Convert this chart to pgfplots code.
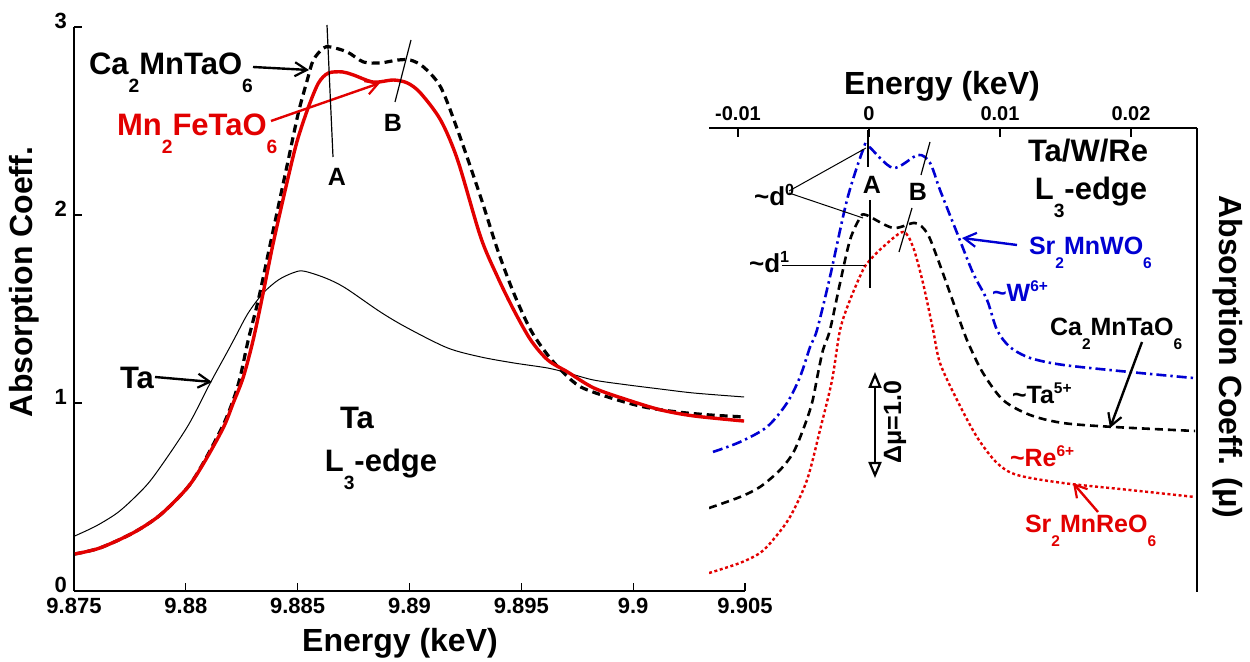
\documentclass[border=0pt]{standalone}
\usepackage{fontspec}
\setmainfont{Liberation Sans}
\usepackage{graphicx}
\usepackage{pgfplots}
\pgfplotsset{compat=1.18}
\usetikzlibrary{arrows.meta}

\definecolor{cred}{RGB}{226,0,0}
\definecolor{cblue}{RGB}{0,0,210}

% chemical sub- and superscripts, set low/high as in the figure style
\newcommand\sub[1]{\raisebox{-0.55em}{\scalebox{0.62}{#1}}}
\newcommand\sups[1]{\raisebox{0.4em}{\scalebox{0.62}{#1}}}
\newcommand\fs[1]{\fontsize{#1}{#1}\selectfont}

\begin{document}
{\bfseries
\begin{tikzpicture}
% ---------------- left panel: Ta L3-edge ----------------
\begin{axis}[
  at={(37pt,-295.5pt)}, anchor=south west,
  scale only axis, width=335.5pt, height=282pt,
  xmin=9.875, xmax=9.905, ymin=0, ymax=3,
  axis x line*=bottom, axis y line*=left,
  axis line style={line width=0.6pt},
  tick align=inside, major tick length=4pt,
  tick style={black, line width=0.6pt},
  xtick={9.875,9.88,9.885,9.89,9.895,9.9,9.905},
  xticklabels={9.875,9.88,9.885,9.89,9.895,9.9,9.905},
  ytick={0,1,2,3}, yticklabels={0,1,2,3},
  tick label style={font=\bfseries\fs{11}},
  yticklabel style={yshift=3pt},
  /pgf/number format/assume math mode=true,
]
% Ta metal reference
\addplot[black, line width=0.5pt, smooth] coordinates {
(9.87504,0.293) (9.87599,0.346) (9.87693,0.415) (9.87773,0.500) (9.87854,0.606)
(9.88006,0.872) (9.88109,1.106) (9.88185,1.271) (9.88221,1.351) (9.88279,1.479)
(9.88346,1.585) (9.88413,1.654) (9.88476,1.691) (9.88525,1.702) (9.88624,1.665)
(9.88713,1.612) (9.88870,1.484) (9.88991,1.399) (9.89170,1.293) (9.89318,1.245)
(9.89466,1.213) (9.89618,1.186) (9.89707,1.160) (9.89824,1.122) (9.89976,1.096)
(9.90124,1.074) (9.90272,1.053) (9.90496,1.032)};
% Ca2MnTaO6
\addplot[black, line width=1.6pt, dash pattern=on 4pt off 2.5pt, smooth] coordinates {
(9.87504,0.197) (9.87616,0.229) (9.87764,0.309) (9.87885,0.404) (9.88006,0.548)
(9.88078,0.681) (9.88167,0.883) (9.88212,1.016) (9.88243,1.138) (9.88279,1.335)
(9.88324,1.548) (9.88369,1.798) (9.88413,2.043) (9.88458,2.293) (9.88503,2.543)
(9.88543,2.718) (9.88570,2.824) (9.88615,2.888) (9.88646,2.894) (9.88722,2.867)
(9.88794,2.814) (9.88870,2.809) (9.88946,2.824) (9.89004,2.824) (9.89063,2.787)
(9.89139,2.681) (9.89215,2.452) (9.89318,2.096) (9.89394,1.814) (9.89466,1.585)
(9.89542,1.388) (9.89618,1.255) (9.89690,1.160) (9.89766,1.085) (9.89900,1.027)
(9.90048,0.979) (9.90200,0.952) (9.90348,0.936) (9.90496,0.926)};
% Mn2FeTaO6
\addplot[cred, line width=1.7pt, smooth] coordinates {
(9.87504,0.197) (9.87616,0.229) (9.87764,0.309) (9.87885,0.404) (9.88006,0.548)
(9.88078,0.676) (9.88167,0.867) (9.88212,1.000) (9.88257,1.138) (9.88301,1.335)
(9.88342,1.564) (9.88387,1.830) (9.88431,2.064) (9.88476,2.293) (9.88503,2.415)
(9.88548,2.574) (9.88593,2.702) (9.88637,2.755) (9.88700,2.761) (9.88749,2.745)
(9.88839,2.707) (9.88928,2.718) (9.88991,2.702) (9.89049,2.649) (9.89139,2.505)
(9.89215,2.293) (9.89318,1.883) (9.89394,1.670) (9.89466,1.495) (9.89542,1.335)
(9.89618,1.229) (9.89707,1.165) (9.89824,1.080) (9.89976,1.016) (9.90124,0.963)
(9.90272,0.931) (9.90496,0.904)};
\end{axis}

% ---------------- right panel: Ta/W/Re L3-edge, relative energy ----------------
\begin{axis}[
  at={(354.5pt,-296pt)}, anchor=south west,
  scale only axis, width=244pt, height=232pt,
  xmin=-0.012214, xmax=0.025038, ymin=0, ymax=4.377,
  axis x line*=top, axis y line*=right,
  axis line style={line width=0.8pt},
  tick align=inside, major tick length=4.5pt,
  tick style={black, line width=0.7pt},
  scaled x ticks=false,
  xtick={-0.01,0,0.01,0.02},
  xticklabels={-0.01,0,0.01,0.02},
  ytick=\empty,
  tick label style={font=\bfseries\fs{10}},
  /pgf/number format/assume math mode=true,
]
% Sr2MnWO6
\addplot[cblue, line width=1.3pt, dash pattern=on 5pt off 2pt on 1.2pt off 2pt, smooth] coordinates {
(-0.01191,1.321) (-0.00985,1.415) (-0.00779,1.557) (-0.00626,1.783) (-0.00527,2.028)
(-0.00450,2.311) (-0.00397,2.472) (-0.00298,2.972) (-0.00168,3.698) (-0.00046,4.170)
(-0.00008,4.208) (0.00183,4.000) (0.00374,4.123) (0.00466,4.047) (0.00542,3.792)
(0.00672,3.387) (0.00794,3.009) (0.00901,2.755) (0.00977,2.472) (0.01076,2.311)
(0.01229,2.208) (0.01481,2.142) (0.01992,2.075) (0.02473,2.019)};
% Ca2MnTaO6
\addplot[black, line width=1.3pt, dash pattern=on 4pt off 2.5pt, smooth] coordinates {
(-0.01221,0.792) (-0.00985,0.896) (-0.00832,0.991) (-0.00679,1.151) (-0.00580,1.311)
(-0.00504,1.528) (-0.00435,1.783) (-0.00389,2.066) (-0.00351,2.283) (-0.00298,2.472)
(-0.00221,2.915) (-0.00145,3.321) (-0.00069,3.528) (-0.00023,3.557) (0.00183,3.434)
(0.00351,3.481) (0.00443,3.387) (0.00519,3.160) (0.00618,2.821) (0.00718,2.472)
(0.00771,2.311) (0.00870,2.066) (0.01023,1.811) (0.01229,1.670) (0.01481,1.594)
(0.01863,1.557) (0.02489,1.519)};
% Sr2MnReO6
\addplot[cred, line width=1.2pt, dash pattern=on 1.5pt off 1.3pt, smooth] coordinates {
(-0.01221,0.179) (-0.00985,0.274) (-0.00832,0.368) (-0.00733,0.491) (-0.00603,0.708)
(-0.00473,1.057) (-0.00374,1.528) (-0.00282,2.000) (-0.00221,2.472) (-0.00145,2.755)
(-0.00046,3.038) (0.00008,3.132) (0.00107,3.255) (0.00260,3.396) (0.00336,3.255)
(0.00412,2.915) (0.00489,2.472) (0.00542,2.160) (0.00672,1.811) (0.00824,1.462)
(0.00977,1.217) (0.01130,1.104) (0.01481,1.028) (0.01992,0.962) (0.02489,0.896)};
\end{axis}

% ---------------- labels and annotations ----------------
\begin{scope}[x=0.5pt, y=-0.5pt]
  \tikzset{barb/.style={-{Straight Barb[length=6pt,width=7pt,line width=1.1pt]}, line width=1.2pt}}
  % axis titles
  \node[anchor=base, font=\bfseries\fs{16}] at (400,652) {Energy (keV)};
  \node[anchor=base, font=\bfseries\fs{16}] at (942,95) {Energy (keV)};
  \node[rotate=90, font=\bfseries\fs{16}] at (24,282) {Absorption Coeff.};
  \node[rotate=-90, font=\bfseries\fs{16}] at (1228,357) {Absorption Coeff. (μ)};

  % left panel
  \node[anchor=base west, font=\bfseries\fs{15.5}] at (82,75) {Ca\sub{2}MnTaO\sub{6}};
  \draw[barb] (253,67) -- (309,70);
  \node[anchor=base west, font=\bfseries\fs{15.5}, text=cred] at (110,136) {Mn\sub{2}FeTaO\sub{6}};
  \draw[barb, cred] (271,121) -- (380,83);
  \draw[line width=0.6pt] (327,25) -- (333,157);
  \node[font=\bfseries\fs{12.5}] at (337,177) {A};
  \draw[line width=0.6pt] (411,40) -- (395,102);
  \node[font=\bfseries\fs{12.5}] at (393,123) {B};
  \node[font=\bfseries\fs{15.5}] at (137,378) {Ta};
  \draw[barb] (155,377) -- (212,382);
  \node[font=\bfseries\fs{15.5}] at (357,418) {Ta};
  \node[anchor=base, font=\bfseries\fs{15.5}] at (381,472) {L\sub{3}-edge};

  % right panel
  \draw[line width=0.6pt] (868,130) -- (868,167);
  \draw[line width=0.6pt] (870,200) -- (870,288);
  \node[font=\bfseries\fs{12.5}] at (872,185) {A};
  \draw[line width=0.6pt] (930,142) -- (921,175);
  \draw[line width=0.6pt] (912,208) -- (899,252);
  \node[font=\bfseries\fs{12.5}] at (918,192) {B};
  \node[anchor=base west, font=\bfseries\fs{13}] at (747,206) {\textasciitilde d\sups{0}};
  \draw[line width=0.5pt] (789,191) -- (866,148);
  \draw[line width=0.5pt] (789,193) -- (863,218);
  \node[anchor=base west, font=\bfseries\fs{13}] at (742,273) {\textasciitilde d\sups{1}};
  \draw[line width=0.5pt] (782,266) -- (865,266);
  \node[font=\bfseries\fs{15.5}] at (1088,151) {Ta/W/Re};
  \node[anchor=base, font=\bfseries\fs{15.5}] at (1091,200) {L\sub{3}-edge};

  \node[anchor=base west, font=\bfseries\fs{12.5}, text=cblue] at (1022,255) {Sr\sub{2}MnWO\sub{6}};
  \draw[barb, cblue] (1017,245) -- (962,238);
  \node[anchor=base west, font=\bfseries\fs{12.5}, text=cblue] at (985,302) {\textasciitilde W\sups{6+}};
  \node[anchor=base west, font=\bfseries\fs{12.5}] at (1043,336) {Ca\sub{2}MnTaO\sub{6}};
  \draw[barb] (1142,342) -- (1110,428);
  \node[anchor=base west, font=\bfseries\fs{12.5}] at (1005,404) {\textasciitilde Ta\sups{5+}};
  \node[anchor=base west, font=\bfseries\fs{12.5}, text=cred] at (1003,467) {\textasciitilde Re\sups{6+}};
  \node[anchor=base west, font=\bfseries\fs{12.5}, text=cred] at (1018,533) {Sr\sub{2}MnReO\sub{6}};
  \draw[barb, cred] (1098,512) -- (1073,483);

  % scale bar
  \draw[line width=1.2pt, {Triangle[open,length=8pt,width=6.5pt,line width=1.1pt]}-{Triangle[open,length=8pt,width=6.5pt,line width=1.1pt]}] (875,372) -- (875,478);
  \node[rotate=90, font=\bfseries\fs{12.5}] at (895,422) {Δμ=1.0};

  \pgfresetboundingbox
  \path[use as bounding box] (0,0) rectangle (1250,662);
\end{scope}
\end{tikzpicture}}
\end{document}
